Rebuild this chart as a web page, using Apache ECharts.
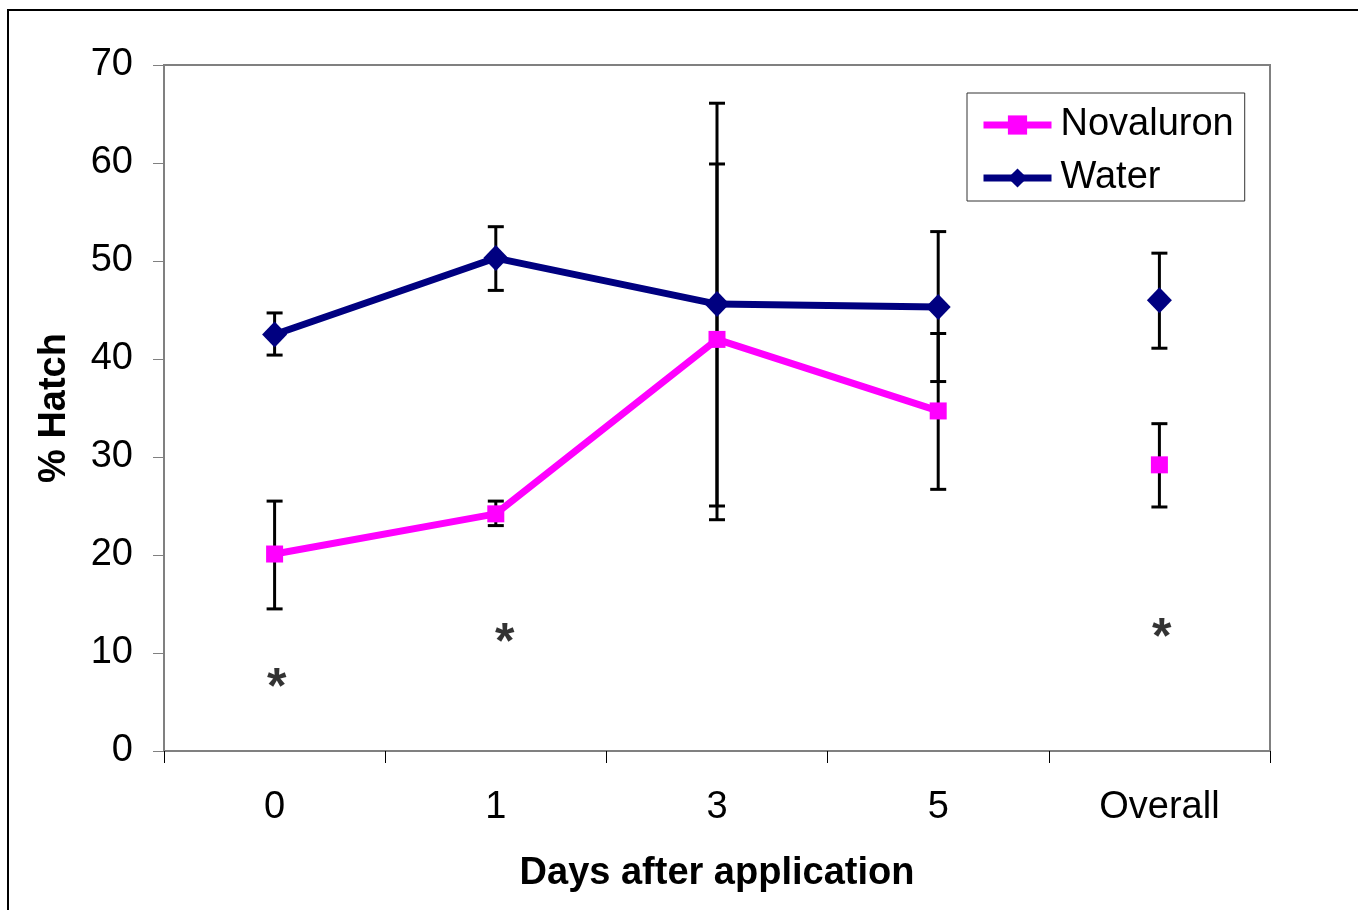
<!DOCTYPE html>
<html>
<head>
<meta charset="utf-8">
<script src="https://cdn.jsdelivr.net/npm/echarts@6/dist/echarts.min.js"></script>
<style>
html,body{margin:0;padding:0;background:#fff;}
#chart{width:1358px;height:910px;}
</style>
</head>
<body>
<div id="chart"></div>
<script>
const categories = ['0', '1', '3', '5', 'Overall'];
const yTicks = [0, 10, 20, 30, 40, 50, 60, 70];

const novaluron = [20.1, 24.2, 42.0, 34.7, 29.2];
const novaluronLow = [14.5, 23.0, 23.6, 26.7, 24.9];
const novaluronHigh = [25.5, 25.5, 59.9, 42.6, 33.4];

const water = [42.5, 50.3, 45.6, 45.3, 46.0];
const waterLow = [40.4, 47.0, 25.0, 37.7, 41.1];
const waterHigh = [44.7, 53.5, 66.1, 53.0, 50.8];

// significance asterisks (category position, % hatch)
const asteriskX = [0.01, 1.04, 4.01];
const asteriskY = [7.2, 11.8, 12.3];

const FONT = 'Liberation Sans, Arial, sans-serif';
const lastDay = categories.length - 1;

function lineData(vals) {
  return vals.map((v, i) => (i < lastDay ? v : '-'));
}
function overallData(vals) {
  return vals.map((v, i) => (i === lastDay ? v : '-'));
}
function errData(low, high) {
  return low.map((l, i) => [i, l, high[i]]);
}

function renderErr(params, api) {
  const x = api.value(0);
  const lo = api.coord([x, api.value(1)]);
  const hi = api.coord([x, api.value(2)]);
  const half = 8;
  const style = { stroke: '#000', lineWidth: 3 };
  return {
    type: 'group',
    children: [
      { type: 'line', shape: { x1: lo[0], y1: lo[1], x2: hi[0], y2: hi[1] }, style },
      { type: 'line', shape: { x1: lo[0] - half, y1: lo[1], x2: lo[0] + half, y2: lo[1] }, style },
      { type: 'line', shape: { x1: hi[0] - half, y1: hi[1], x2: hi[0] + half, y2: hi[1] }, style }
    ]
  };
}

const chart = echarts.init(document.getElementById('chart'), null, { renderer: 'canvas' });

const option = {
  backgroundColor: '#fff',
  animation: false,
  graphic: [{
    type: 'rect',
    shape: { x: 8, y: 10, width: 1400, height: 1000 },
    style: { fill: 'none', stroke: '#000', lineWidth: 2 },
    z: -10
  }],
  grid: {
    left: 164, top: 65, right: 88, bottom: 159,
    show: true, borderColor: '#808080', borderWidth: 2,
    containLabel: false
  },
  legend: {
    left: 967, top: 93,
    orient: 'vertical',
    data: ['Novaluron', 'Water'],
    itemWidth: 68, itemHeight: 24,
    itemGap: 15,
    padding: [13, 11, 4, 13],
    borderColor: '#333', borderWidth: 1,
    backgroundColor: '#fff',
    lineStyle: { width: 7 },
    textStyle: { fontFamily: FONT, fontSize: 38, color: '#000', padding: [0, 0, 0, 4] }
  },
  xAxis: [{
    type: 'category',
    data: categories,
    boundaryGap: true,
    name: 'Days after application',
    nameLocation: 'middle',
    nameGap: 104,
    nameTextStyle: { fontFamily: FONT, fontSize: 38, fontWeight: 'bold', color: '#000' },
    axisLine: { onZero: false, lineStyle: { color: '#808080', width: 2 } },
    axisTick: { show: true, length: 12, lineStyle: { color: '#000', width: 1 }, alignWithLabel: false },
    axisLabel: { fontFamily: FONT, fontSize: 38, color: '#000', margin: 38 },
    splitLine: { show: false }
  }, {
    type: 'value',
    min: -0.5, max: 4.5,
    show: false
  }],
  yAxis: {
    type: 'value',
    min: yTicks[0], max: yTicks[yTicks.length - 1], interval: 10,
    name: '% Hatch',
    nameLocation: 'middle',
    nameGap: 90,
    nameTextStyle: { fontFamily: FONT, fontSize: 38, fontWeight: 'bold', color: '#000' },
    axisLine: { show: true, onZero: false, lineStyle: { color: '#808080', width: 2 } },
    axisTick: { show: true, length: 11, lineStyle: { color: '#808080', width: 1 } },
    axisLabel: { fontFamily: FONT, fontSize: 38, color: '#000', margin: 31, padding: [3, 0, 0, 0] },
    splitLine: { show: false }
  },
  series: [
    {
      type: 'custom', name: 'errN', xAxisIndex: 0,
      renderItem: renderErr, data: errData(novaluronLow, novaluronHigh), z: 1, silent: true
    },
    {
      type: 'custom', name: 'errW', xAxisIndex: 0,
      renderItem: renderErr, data: errData(waterLow, waterHigh), z: 1, silent: true
    },
    {
      name: 'Novaluron', type: 'line', data: lineData(novaluron),
      symbol: 'rect', symbolSize: 17, showAllSymbol: true,
      lineStyle: { color: '#FF00FF', width: 7 },
      itemStyle: { color: '#FF00FF' }, z: 3
    },
    {
      name: 'Water', type: 'line', data: lineData(water),
      symbol: 'diamond', symbolSize: [25, 26], showAllSymbol: true,
      lineStyle: { color: '#000080', width: 7 },
      itemStyle: { color: '#000080' }, z: 4
    },
    {
      name: 'Novaluron', type: 'scatter', data: overallData(novaluron),
      symbol: 'rect', symbolSize: 17, itemStyle: { color: '#FF00FF', opacity: 1 }, z: 3
    },
    {
      name: 'Water', type: 'scatter', data: overallData(water),
      symbol: 'diamond', symbolSize: [25, 26], itemStyle: { color: '#000080', opacity: 1 }, z: 4
    },
    {
      name: 'sig', type: 'scatter', xAxisIndex: 1,
      data: asteriskX.map((x, i) => [x, asteriskY[i]]),
      symbolSize: 1, itemStyle: { color: 'rgba(0,0,0,0)' }, silent: true,
      label: {
        show: true, position: 'inside', formatter: '*',
        fontFamily: FONT, fontSize: 50, fontWeight: 'bold', color: '#000',
        textBorderWidth: 0, textBorderColor: 'transparent',
        offset: [0, 9]
      }, z: 5
    }
  ]
};
chart.setOption(option);
</script>
</body>
</html>
